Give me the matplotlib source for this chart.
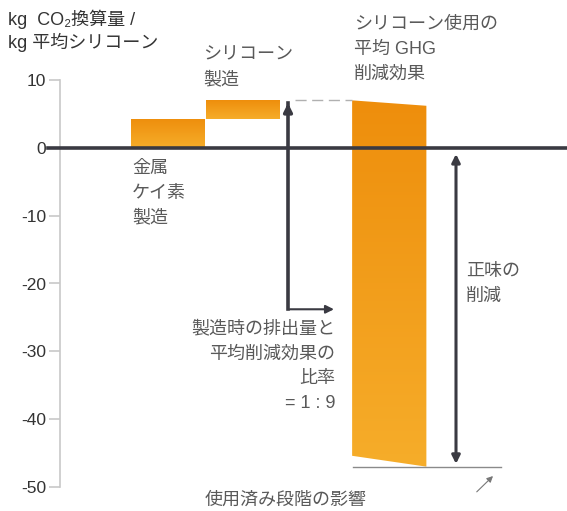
import numpy as np
import matplotlib.pyplot as plt
from matplotlib.patches import Polygon
from matplotlib.colors import LinearSegmentedColormap

plt.rcParams['font.family'] = ['Liberation Sans', 'Noto Sans CJK JP', 'DejaVu Sans']

# data (kg CO2e per kg silicone)
steps = ['金属\nケイ素\n製造', 'シリコーン\n製造']
step_lo = [0.0, 4.3]
step_hi = [4.3, 7.0]
use_top = [7.0, 6.2]      # left / right edge of use-phase bar
use_bottom = [-45.4, -47.0]
yticks = [10, 0, -10, -20, -30, -40, -50]

step_x = [0, 1]
use_x = 2.95
width = 0.99

dark = '#3a3a42'
grey = '#8a8a8a'
txt = '#595959'
orange = LinearSegmentedColormap.from_list('o', ['#ee8e0c', '#f6ad2a'])

fig = plt.figure(figsize=(5.67, 5.11), dpi=100)
ax = fig.add_axes([60 / 567, 24 / 511, 507 / 567, 407 / 511])


def grad_fill(verts):
    poly = Polygon(verts, closed=True, fc='none', ec='none')
    ax.add_patch(poly)
    xs = [v[0] for v in verts]
    ys = [v[1] for v in verts]
    g = np.linspace(0, 1, 256).reshape(-1, 1)
    im = ax.imshow(g, cmap=orange, aspect='auto', origin='upper',
                   extent=[min(xs), max(xs), min(ys), max(ys)], zorder=2)
    im.set_clip_path(poly)


for x, lo, hi in zip(step_x, step_lo, step_hi):
    grad_fill([(x - width / 2, lo), (x + width / 2, lo), (x + width / 2, hi), (x - width / 2, hi)])

grad_fill([(use_x - width / 2, use_bottom[0]), (use_x + width / 2, use_bottom[1]),
           (use_x + width / 2, use_top[1]), (use_x - width / 2, use_top[0])])
ax.set_xlim(-1.44, 5.32)
ax.set_ylim(-50, 10)

# zero line
ax.plot([-1.6, 5.32], [0, 0], color=dark, lw=2.6, clip_on=False, zorder=5)

# ratio arrow
ax_x = 1.6
ax.plot([ax_x, ax_x], [-23.8, 6.6], color=dark, lw=2.6, zorder=4)
ax.annotate('', xy=(ax_x, step_hi[1]), xytext=(ax_x, 5.0),
            arrowprops=dict(arrowstyle='-|>', color=dark, lw=2.6, mutation_scale=12))
ax.annotate('', xy=(2.25, -23.8), xytext=(ax_x - 0.015, -23.8),
            arrowprops=dict(arrowstyle='-|>', color=dark, lw=1.5, mutation_scale=12))
ax.plot([1.69, use_x - width / 2], [use_top[0], use_top[0]], color='#b0b0b0', lw=1, ls=(0, (8, 4)))

# net reduction arrow
ax.annotate('', xy=(3.84, use_bottom[1]), xytext=(3.84, -0.5),
            arrowprops=dict(arrowstyle='<|-|>', color=dark, lw=2.2, mutation_scale=12))
ax.plot([2.47, 4.44], [use_bottom[1], use_bottom[1]], color=grey, lw=1)
ax.annotate('', xy=(4.36, -48.1), xytext=(4.09, -51.0), annotation_clip=False,
            arrowprops=dict(arrowstyle='-|>', color='#777777', lw=0.8, mutation_scale=9))

# axes styling
for s in ['top', 'right', 'bottom']:
    ax.spines[s].set_visible(False)
ax.spines['left'].set_color('#c8c8c8')
ax.spines['left'].set_linewidth(1.2)
ax.set_xticks([])
ax.set_yticks(yticks)
ax.set_yticklabels([str(t) for t in yticks])
ax.tick_params(axis='y', length=8, width=1.2, color='#c8c8c8', labelcolor='#333333',
               labelsize=12.5, pad=2)

fs = 13
ls = 1.6
ax.text(0.47, 15.0, steps[1], ha='left', va='top', fontsize=fs, color=txt, linespacing=ls)
ax.text(-0.48, -1.75, steps[0], ha='left', va='top', fontsize=fs, color=txt, linespacing=ls)
ax.text(2.48, 19.4, 'シリコーン使用の\n平均 GHG\n削減効果', ha='left', va='top',
        fontsize=fs, color=txt, linespacing=ls)
ax.text(3.97, -17.0, '正味の\n削減', ha='left', va='top', fontsize=fs, color=txt, linespacing=ls)
ax.text(2.23, -25.5, '製造時の排出量と\n平均削減効果の\n比率\n= 1 : 9', ha='right', va='top',
        fontsize=fs, color=txt, linespacing=ls, multialignment='right')
ax.text(0.49, -52.0, '使用済み段階の影響', ha='left', va='center', fontsize=fs, color=txt,
        clip_on=False)

# y-axis title
fig.text(8 / 567, 1 - 10 / 511, 'kg  CO₂換算量 /\nkg 平均シリコーン', ha='left', va='top',
         fontsize=13, color='#333333', linespacing=1.25)

fig.savefig('out.png', dpi=100)
